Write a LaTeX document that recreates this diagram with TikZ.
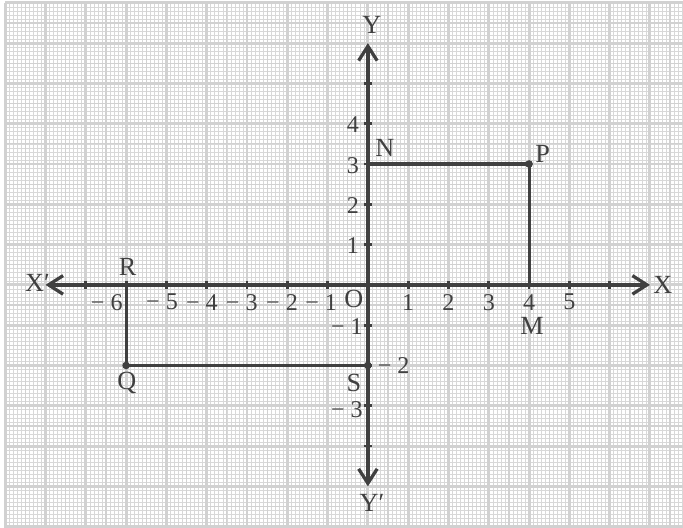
\documentclass[tikz,border=0pt]{standalone}
\usepackage{fontspec}
\setmainfont{Liberation Serif}
\usetikzlibrary{arrows.meta}
\definecolor{inkgray}{gray}{0.25}
\definecolor{papergray}{gray}{0.82}
\tikzset{
  paper minor/.style={draw=papergray!85!white,line width=0.45pt},
  paper half/.style={draw=papergray,line width=0.9pt},
  paper major/.style={draw=papergray,line width=2.1pt},
  axis line/.style={{Straight Barb[length=3.6mm,width=4.6mm]}-{Straight Barb[length=3.6mm,width=4.6mm]},
    draw=inkgray,line width=2.3pt},
  figure edge/.style={draw=inkgray,line width=2.2pt,line cap=round},
  tick mark/.style={draw=inkgray,line width=2pt},
  point dot/.style={circle,fill=inkgray,inner sep=0pt,minimum size=1.9mm},
  point label/.style={font=\fontsize{18.5}{21}\selectfont,text=inkgray,inner sep=0pt},
  tick label/.style={font=\fontsize{17}{20}\selectfont,text=inkgray,inner sep=0pt}
}

\begin{document}
\begin{tikzpicture}[x=1cm,y=1cm]
  \useasboundingbox (-9.13,-6.03) rectangle (7.82,7.07);
  % graph paper
  \begin{scope}
    \clip (-9.13,-6.03) rectangle (7.82,7.07);
    \fill[white] (-9.13,-6.03) rectangle (7.82,7.07);
    \draw[paper minor] (-9,-6.1) grid[step=0.1] (7.9,7);
    \draw[paper half] (-9,-6.1) grid[step=0.5] (7.9,7);
    \draw[paper major] (-9,-6.1) grid[step=1] (7.9,7);
  \end{scope}
  % axes
  \coordinate (xleft) at (-8,0);
  \coordinate (xright) at (7,0);
  \coordinate (ytop) at (0,6);
  \coordinate (ybottom) at (0,-5);
  \draw[axis line] (xleft) -- (xright);
  \draw[axis line] (ybottom) -- (ytop);
  \foreach \x in {-7,...,-1,1,2,...,6}
    \draw[tick mark] (\x,-0.1) -- (\x,0.1);
  \foreach \y in {-4,...,-1,1,2,...,5}
    \draw[tick mark] (-0.1,\y) -- (0.1,\y);
  \node[point label] (Xlabel) at (7.32,0) {X};
  \node[point label] (Xprime) at (-8.2,0.05) {X′};
  \node[point label] (Ylabel) at (0.1,6.45) {Y};
  \node[point label] (Yprime) at (0.1,-5.4) {Y′};
  \node[point label] (Olabel) at (-0.35,-0.36) {O};
  % tick numbers
  \foreach \x in {1,...,5}
    \node[tick label] (xnum\x) at (\x,-0.43) {\x};
  \foreach \x/\pos in {1/-1.16,2/-2.13,3/-3.13,4/-4.12,5/-5.11,6/-6.48}
    \node[tick label] (xneg\x) at (\pos,-0.43) {− \x};
  \foreach \y in {1,...,4}
    \node[tick label] (ynum\y) at (-0.37,\y-0.03) {\y};
  \node[tick label] (yneg1) at (-0.52,-1.04) {− 1};
  \node[tick label] (yneg2) at (0.64,-2.0) {− 2};
  \node[tick label] (yneg3) at (-0.52,-3.1) {− 3};
  % the two figures
  \coordinate (N) at (0,3);
  \coordinate (M) at (4,0);
  \coordinate (R) at (-6,0);
  \node[point dot] (P) at (4,3) {};
  \node[point dot] (Q) at (-6,-2) {};
  \node[point dot] (S) at (0,-2) {};
  \draw[figure edge] (N) -- (P.center) -- (M);
  \draw[figure edge] (R) -- (Q.center) -- (S.center);
  \node[point label] (Nlabel) at (0.42,3.39) {N};
  \node[point label] (Plabel) at (4.34,3.25) {P};
  \node[point label] (Mlabel) at (4.07,-1.03) {M};
  \node[point label] (Rlabel) at (-5.96,0.45) {R};
  \node[point label] (Qlabel) at (-5.98,-2.43) {Q};
  \node[point label] (Slabel) at (-0.35,-2.43) {S};
\end{tikzpicture}
\end{document}
